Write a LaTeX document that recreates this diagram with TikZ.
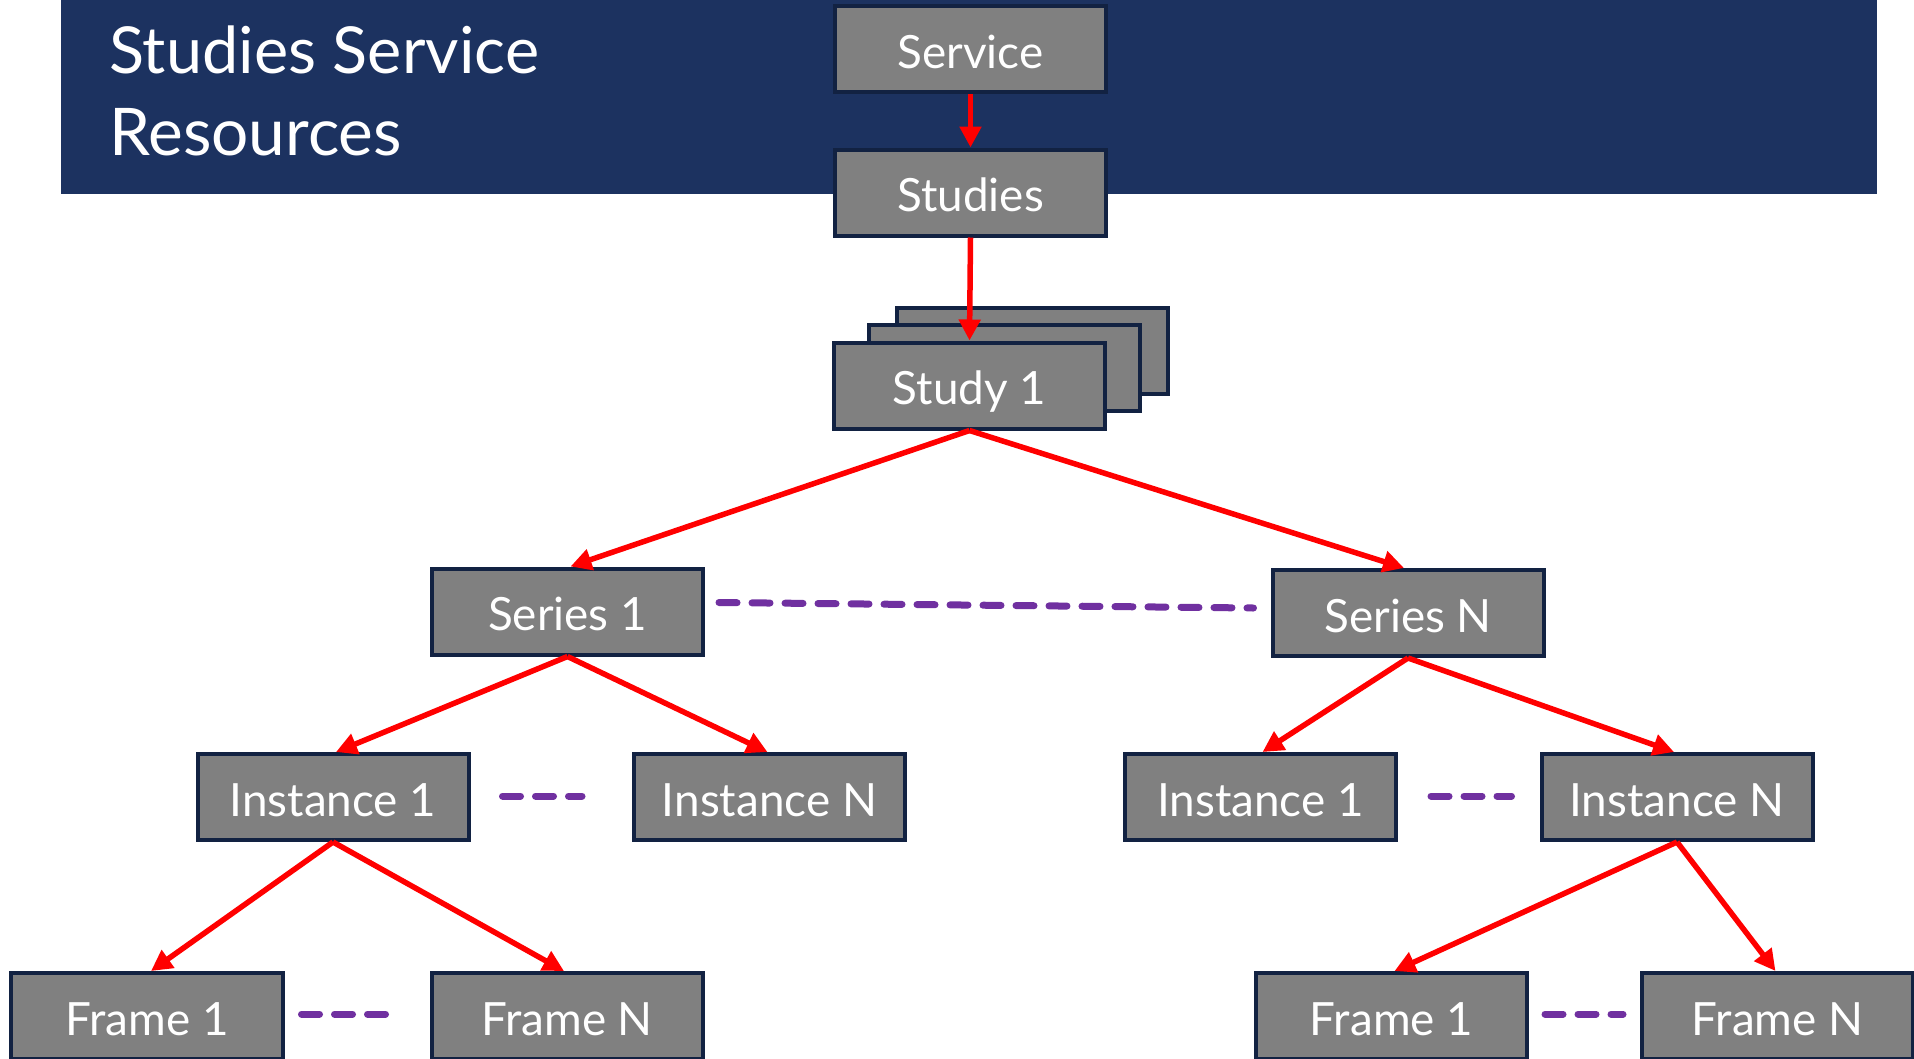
\documentclass[tikz,border=0pt]{standalone}
\usepackage{fontspec}
\setmainfont{Lato}
\usetikzlibrary{arrows.meta,calc}
\definecolor{navy}{RGB}{28,50,96}
\definecolor{boxgray}{RGB}{128,128,128}
\definecolor{boxedge}{RGB}{18,34,66}
\definecolor{arrred}{RGB}{255,0,0}
\definecolor{dashpurple}{RGB}{112,48,160}
\tikzset{
  box/.style={draw=boxedge, line width=4bp, fill=boxgray, text=white,
    minimum width=271bp, minimum height=86bp, inner sep=0pt,
    font=\fontsize{46}{50}\selectfont, text height=38bp, text depth=0bp},
  link/.style={draw=arrred, line width=5.5bp, -{Triangle[length=21bp,width=21bp]}},
  etc/.style={draw=dashpurple, line width=7bp, line cap=round, dash pattern=on 18bp off 15bp},
}
\begin{document}
\begin{tikzpicture}[x=1bp,y=-1bp]
\useasboundingbox (0,0) rectangle (1914,1058);
\clip (0,0) rectangle (1914,1058);
\fill[white] (0,0) rectangle (1914,1058);
\fill[navy] (61,-5) rectangle (1877,194);
\node[anchor=base west, inner sep=0pt, text=white, font=\fontsize{65}{78}\selectfont] (title1) at (109,73) {Studies Service};
\node[anchor=base west, inner sep=0pt, text=white, font=\fontsize{66}{78}\selectfont] (title2) at (109,155) {Resources};

\node[box] (service) at (970.5,49) {Service};
\node[box] (studies) at (970.5,192.5) {Studies};
\node[box] (studyc) at (1032.5,351) {};
\node[box] (studyb) at (1004.5,368) {};
\node[box] (study1) at (969.5,385.5) {Study 1};

\node[box] (series1) at (567.5,611.5) {Series 1};
\node[box] (seriesN) at (1408,613) {Series N};

\node[box] (inst1L) at (333,797) {Instance 1};
\node[box] (instNL) at (769.5,797) {Instance N};
\node[box] (inst1R) at (1260.5,797) {Instance 1};
\node[box] (instNR) at (1677,797) {Instance N};

\node[box] (frame1L) at (147,1016) {Frame 1};
\node[box] (frameNL) at (567,1016) {Frame N};
\node[box] (frame1R) at (1391.5,1016) {Frame 1};
\node[box] (frameNR) at (1777.5,1016) {Frame N};

\draw[link] (service.south) -- (studies.north);
\draw[link] (studies.south) -- (study1.north);
\draw[link] (study1.south) -- ($(series1.north)+(3,0)$);
\draw[link] (study1.south) -- ($(seriesN.north)+(-4,0)$);
\draw[link] (series1.south) -- ($(inst1L.north)+(3,0)$);
\draw[link] (series1.south) -- ($(instNL.north)+(-2,0)$);
\draw[link] (seriesN.south) -- ($(inst1R.north)+(2,0)$);
\draw[link] (seriesN.south) -- ($(instNR.north)+(-3,0)$);
\draw[link] (inst1L.south) -- ($(frame1L.north)+(4,0)$);
\draw[link] (inst1L.south) -- ($(frameNL.north)+(-3,0)$);
\draw[link] (instNR.south) -- ($(frame1R.north)+(3,0)$);
\draw[link] (instNR.south) -- ($(frameNR.north)+(-2,0)$);

\draw[etc] ($(series1.east)+(14,-9)$) -- ($(seriesN.west)+(-17,-5)$);
\draw[etc] ($(inst1L.east)+(32,-1)$) -- ($(instNL.west)+(-50,-1)$);
\draw[etc] ($(inst1R.east)+(33,-1)$) -- ($(instNR.west)+(-28,-1)$);
\draw[etc] ($(frame1L.east)+(17,-2)$) -- ($(frameNL.west)+(-33,-2)$);
\draw[etc] ($(frame1R.east)+(16,-2)$) -- ($(frameNR.west)+(-17,-2)$);
\end{tikzpicture}
\end{document}
